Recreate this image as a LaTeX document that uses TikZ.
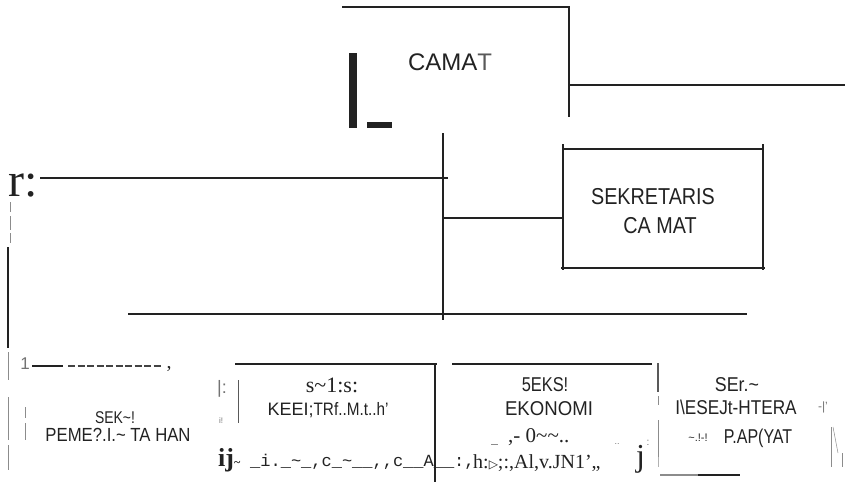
\documentclass[tikz,border=0pt]{standalone}
\usepackage{fontspec}
\setmainfont{Liberation Serif}
\setsansfont{Liberation Sans}
\setmonofont{Liberation Mono}
\newfontfamily\symfont{DejaVu Sans}
\newcommand{\fsz}[1]{\fontsize{#1}{#1}\selectfont}
\definecolor{ink}{HTML}{222222}
\tikzset{
  ln/.style={line width=1.7pt, draw=ink},
  thickln/.style={line width=2.4pt, draw=ink},
  thinln/.style={line width=1pt, draw=ink!75},
  greyln/.style={line width=0.8pt, draw=black!45},
  sans/.style={font=\sffamily, inner sep=0pt, text=ink},
  serif/.style={font=\rmfamily, inner sep=0pt, text=ink},
  mono/.style={font=\ttfamily, inner sep=0pt, text=ink},
  faint/.style={font=\sffamily, inner sep=0pt, text=black!55},
}
\begin{document}
\begin{tikzpicture}[x=1pt,y=-1pt]
\useasboundingbox (0,0) rectangle (845,482);

% ---------- CAMAT ----------
\coordinate (t1) at (342,7);
\coordinate (t2) at (569,7);
\coordinate (t3) at (569,117);
\coordinate (t4) at (569,85);
\coordinate (t5) at (845,85);
\draw[ln] (t1) -- (t2) -- (t3);
\draw[ln] (t4) -- (t5);
\node[sans] (camat) at (450,62.5) {\fsz{24}CAMA\textcolor{ink!75}{T}};
\fill[ink] (348.5,53) rectangle (356.5,128);
\fill[ink] (367,122) rectangle (392,128);

% ---------- trunk ----------
\coordinate (v1) at (443,133);
\coordinate (v2) at (443,320);
\draw[ln] (v1) -- (v2);
\coordinate (h1a) at (40,178);
\coordinate (h1b) at (448,178);
\draw[ln] (h1a) -- (h1b);
\node[serif] (rr) at (23,186) {\fsz{48}r:};
\coordinate (h2a) at (443,218);
\coordinate (h2b) at (564,218);
\draw[ln] (h2a) -- (h2b);
\coordinate (h3a) at (128,314);
\coordinate (h3b) at (747,314);
\draw[ln] (h3a) -- (h3b);

% ---------- SEKRETARIS CAMAT box ----------
\coordinate (s1) at (563,144);
\coordinate (s2) at (563,270);
\coordinate (s3) at (763,144);
\coordinate (s4) at (763,270);
\draw[ln] (s1) -- (s2);
\draw[ln] (s3) -- (s4);
\draw[ln] (563,149) -- (763,149);
\draw[ln] (561,268) -- (765,268);
\node[sans] (sek1) at (653,197) {\fsz{23}\scalebox{0.86}[1]{SEKRETARIS}};
\node[sans] (sek2) at (660,225.5) {\fsz{23}\scalebox{0.86}[1]{CA MAT}};

% ---------- left spine ----------
\draw[greyln] (10,202) -- (10,212);
\draw[greyln] (10,216) -- (10,230);
\draw[greyln] (10,233) -- (10,243);
\draw[ln] (8,247) -- (8,348);
\draw[greyln] (8,352) -- (8,380);
\draw[greyln] (8,397) -- (8,440);
\draw[greyln, line width=0.6pt] (8,445) -- (8,470);
\draw[greyln] (25,407) -- (25,418);
\draw[greyln] (25,423) -- (25,440);
\node[faint] (one) at (25,364) {\fsz{17}1};
\draw[thickln, line width=2.8pt] (32,366) -- (63,366);
\draw[line width=2pt, draw=ink!85, dash pattern=on 7pt off 2.5pt] (68,366) -- (163,366);
\node[serif] (comma) at (169,369) {\fsz{20},};

% ---------- bottom boxes ----------
\node[sans] (pa) at (115,418) {\fsz{17}\scalebox{0.82}[1]{SEK\textasciitilde!}};
\node[sans] (pb) at (118,435) {\fsz{19}\scalebox{0.88}[1]{PEME?.I.\textasciitilde\ TA HAN}};

\node[faint] (bar1) at (222,389) {\fsz{18}|:};
\node[faint] (bar2) at (221,421) {\fsz{8}i!};
\draw[thinln] (238,380) -- (238,423);
\coordinate (k1) at (235,364);
\coordinate (k2) at (437,364);
\coordinate (k3) at (435,482);
\draw[thickln] (k1) -- (k2);
\draw[thickln] (435,364) -- (k3);
\node[serif] (ka) at (332,385) {\fsz{22}s\textasciitilde1:s:};
\node[sans] (kb) at (328,410) {\fsz{18}KEEI;\scalebox{0.85}[1]{TRf..M.t..h'}};

\coordinate (e1) at (452,364);
\coordinate (e2) at (652,364);
\draw[thickln] (e1) -- (e2);
\node[sans] (ea) at (545,385) {\fsz{20}\scalebox{0.82}[1]{5EKS!}};
\node[sans] (eb) at (549,409) {\fsz{20}\scalebox{0.93}[1]{EKONOMI}};
\node[serif, anchor=base west] (ec) at (508,442) {\fsz{21},- 0\textasciitilde\textasciitilde..};
\draw[greyln] (491,444) -- (498,444);
\node[faint] (edots) at (617,444) {\fsz{9}..};

\draw[thinln, line width=1.3pt] (658,363) -- (658,392);
\draw[greyln] (658,396) -- (658,405);
\draw[greyln] (658,420) -- (658,457);
\draw[greyln, draw=black!30] (658,457) -- (658,467);
\node[sans] (sa) at (737,385) {\fsz{20}\scalebox{0.89}[1]{SEr.\textasciitilde}};
\node[sans] (sb) at (736,407) {\fsz{20}\scalebox{0.86}[1]{I\textbackslash ESEJt-HTERA}};
\node[sans] (sc1) at (698,438) {\fsz{11}\textasciitilde.!-!};
\node[sans] (sc2) at (758,438) {\fsz{20}\scalebox{0.8}[1]{P.AP(YAT}};
\node[faint] (sd) at (823,407) {\fsz{12}-|'};
\draw[greyln] (831,427) -- (831,467);
\draw[greyln, line width=0.5pt] (833,427) -- (838,453);
\draw[greyln] (842,453) -- (842,467);
\draw[line width=2pt, draw=black!45] (660,475) -- (698,475);
\draw[line width=2pt, draw=ink] (698,475) -- (740,475);

% ---------- broken bottom line of text ----------
\node[serif, anchor=base west] (ij) at (218,466) {\fsz{26}\bfseries ij\fsz{12}\textasciitilde};
\node[mono, anchor=base west] (mrow) at (250,466) {\fsz{17}\_i.\_\textasciitilde\_,c\_\textasciitilde\_\_,,c\_\_A\_\_:,};
\node[serif, anchor=base west] (srow) at (473,468) {\fsz{20}h:{\symfont\fsz{12}▷};:,Al,v.JN1',,};
\node[serif, anchor=base west] (jj) at (636,466) {\fsz{32}j};
\node[faint] (jc) at (648,443) {\fsz{10}:};
\end{tikzpicture}
\end{document}
